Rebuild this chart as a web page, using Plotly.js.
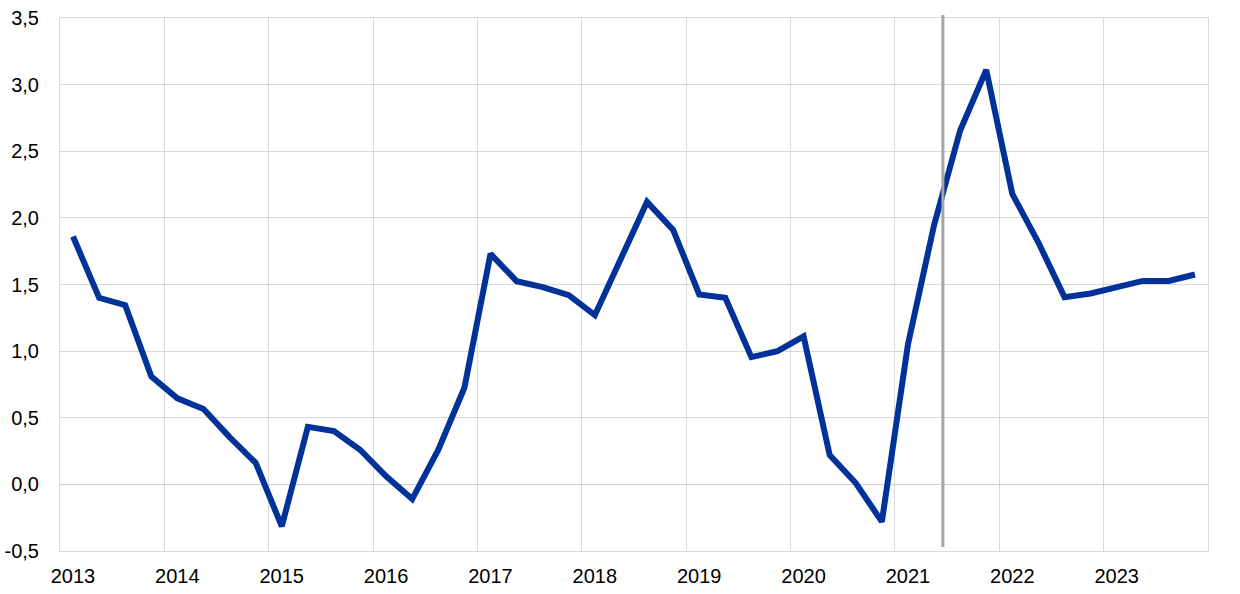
<!DOCTYPE html>
<html>
<head>
<meta charset="utf-8">
<script src="https://cdn.plot.ly/plotly-3.0.1.min.js"></script>
<style>html,body{margin:0;padding:0;background:#fff;}#chart{width:1240px;height:594px;}</style>
</head>
<body>
<div id="chart"></div>
<script>
// Quarterly series, 2013 Q1 – 2023 Q4
const years = [2013,2014,2015,2016,2017,2018,2019,2020,2021,2022,2023];
const quarters = [1,2,3,4];
const values = [
  1.86, 1.40, 1.345, 0.81,   // 2013
  0.646, 0.566, 0.355, 0.162, // 2014
  -0.315, 0.432, 0.40, 0.26,  // 2015
  0.06, -0.11, 0.26, 0.725,   // 2016
  1.73, 1.525, 1.48, 1.42,    // 2017
  1.27, 1.69, 2.12, 1.91,     // 2018
  1.425, 1.40, 0.955, 1.00,   // 2019
  1.11, 0.22, 0.01, -0.28,    // 2020
  1.05, 1.945, 2.656, 3.11,   // 2021
  2.18, 1.815, 1.405, 1.433,  // 2022
  1.485, 1.527, 1.527, 1.575  // 2023
];
const markerDate = 2021.46;
const yTicks = [-0.5,0,0.5,1,1.5,2,2.5,3,3.5];
const yTickText = yTicks.map(v => v.toFixed(1).replace('.', ','));

const x = [];
years.forEach(y => quarters.forEach(q => x.push(y + (q - 0.5) / 4)));

const grid = '#d9d9d9';
const fontFam = 'Liberation Sans, Arial, sans-serif';

Plotly.newPlot('chart', [{
  x: x, y: values, type: 'scatter', mode: 'lines',
  line: {color: '#003299', width: 6, shape: 'linear'},
  hoverinfo: 'skip', showlegend: false
}], {
  width: 1240, height: 594,
  margin: {l: 60, r: 32, t: 18, b: 43},
  paper_bgcolor: '#fff', plot_bgcolor: '#fff',
  font: {family: fontFam, size: 20, color: '#000'},
  xaxis: {
    range: [2013, 2024], tickmode: 'array',
    tickvals: years, ticktext: years.map(String),
    showgrid: true, gridcolor: grid, gridwidth: 1,
    showline: true, linecolor: grid, linewidth: 1, mirror: true,
    zeroline: false, ticks: '', ticklabelshift: 13, ticklabelstandoff: 7,
    tickfont: {family: fontFam, size: 20, color: '#000'},
    fixedrange: true
  },
  yaxis: {
    range: [-0.5, 3.5], tickmode: 'array', tickvals: yTicks, ticktext: yTickText,
    showgrid: true, gridcolor: grid, gridwidth: 1,
    showline: true, linecolor: grid, linewidth: 1, mirror: true,
    zeroline: true, zerolinecolor: '#d0d0d0', zerolinewidth: 1.5,
    ticks: '', ticklabelstandoff: 16,
    tickfont: {family: fontFam, size: 20, color: '#000'},
    fixedrange: true
  },
  shapes: [{
    type: 'line', xref: 'x', yref: 'paper',
    x0: markerDate, x1: markerDate, y0: 0.0075, y1: 1.0056,
    line: {color: '#a6a6a6', width: 3}, layer: 'above'
  }]
}, {displayModeBar: false, staticPlot: true});
</script>
</body>
</html>
